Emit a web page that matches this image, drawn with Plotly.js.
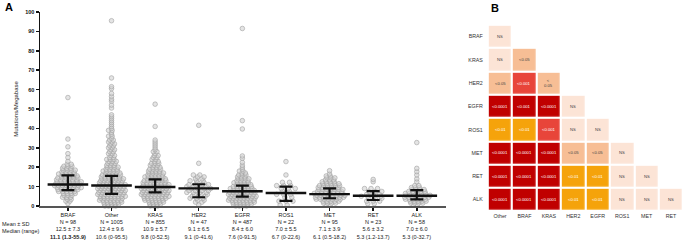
<!DOCTYPE html>
<html><head><meta charset="utf-8">
<script src="https://cdn.plot.ly/plotly-3.0.1.min.js"></script>
<style>html,body{margin:0;padding:0;background:#fff}#chart{width:685px;height:242px}</style>
</head><body><div id="chart"></div>
<script>
// ---------- Panel A data ----------
const cats = ['BRAF','Other','KRAS','HER2','EGFR','ROS1','MET','RET','ALK'];
const nCounts = [98,1005,855,47,487,22,95,23,58];
const meanSD = ['12.5 ± 7.3','12.4 ± 9.6','10.9 ± 5.7','9.1 ± 6.5','8.4 ± 6.0','7.0 ± 5.5','7.1 ± 3.9','5.6 ± 3.2','7.0 ± 6.0'];
const medianRange = ['11.1 (1.3-55.9)','10.6 (0-95.5)','9.8 (0-52.5)','9.1 (0-41.6)','7.6 (0-91.5)','6.7 (0-22.6)','6.1 (0.5-18.2)','5.3 (1.2-13.7)','5.3 (0-32.7)'];
const medians = [11.1,10.6,9.8,9.1,7.6,6.7,6.1,5.3,5.3];
const q1 = [8.2,6.2,7.0,4.5,4.8,2.6,4.0,3.1,3.4];
const q3 = [15.8,15.5,13.7,11.2,10.5,10.0,9.1,7.7,8.2];

// swarm rows: value levels and number of dots across at each level
const brafLevels = [1.3,2.5,3.5,4.5,5.5,6.5,7.5,8.5,9.5,10.5,11.5,12.5,13.5,14.5,15.5,16.5,17.5,18.5,19.5,20.5,21.5,23,25,27,30.5,34.5,55.9];
const brafCounts = [1,2,2,3,3,4,5,6,7,7,7,7,6,6,5,5,4,4,3,3,2,1,1,1,1,1,1];
const otherLevels = [0,1,2,3,4,5,6,7,8,9,10,11,12,13,14,15,16,17,18,19,20,21,22,23,24,25,26,27,28,29,30,31,32,33,34,35,36,37,38,39,40,41,42,43,44,45,46,47,50.5,52,54,55,56.5,58,60.5,61.5,66,95.5];
const otherCounts = [4,5,6,7,7,8,8,8,8,8,8,8,7,7,7,6,6,5,5,4,4,3,3,3,3,2,2,2,2,2,2,2,2,2,2,1,2,1,1,2,1,1,1,1,1,1,1,1,1,1,1,1,1,1,1,1,1,1];
const krasLevels = [0,1,2,3,4,5,6,7,8,9,10,11,12,13,14,15,16,17,18,19,20,21,22,23,24,25,26,27,28,29,30,31,32,33,34,41,52.5];
const krasCounts = [3,4,5,6,7,8,8,8,8,8,8,8,7,7,6,6,5,5,4,4,3,3,3,2,2,2,2,1,2,1,1,1,1,1,1,1,1];
const her2Levels = [0.5,2,3,4,5,6,7,8,9,10,11,12,13,14,15,16,22,41.6];
const her2Counts = [1,2,2,3,3,3,4,4,4,4,4,2,3,2,2,2,1,1];
const egfrLevels = [0,1,2,3,4,5,6,7,8,9,10,11,12,13,14,15,16,17,18,19,20,21,22.5,24.6,25.8,39.7,44,91.5];
const egfrCounts = [4,6,7,8,8,8,8,8,7,7,6,5,5,4,4,3,3,2,2,1,1,1,1,1,1,1,1,1];
const ros1Levels = [0.5,2.5,4.5,6,7.5,9,10.5,12.2,16,22.9];
const ros1Counts = [2,3,2,3,2,3,3,2,1,1];
const metLevels = [0.5,1.5,2.5,3.5,4.5,5.5,6.5,7.5,8.5,9.5,10.5,11.5,12.5,13.5,14.5,15.5,16.5,18.2];
const metCounts = [2,4,5,7,8,8,8,7,7,6,6,5,4,3,3,2,1,1];
const retLevels = [1.2,2.5,4,5,6,7.5,9,12.5,13.7];
const retCounts = [2,3,3,4,3,3,3,1,1];
const alkLevels = [0.5,1.5,2.5,3.5,4.5,5.5,6.5,7.5,8.5,9.5,10.5,12.5,14,16,17.7,19.4,32.7];
const alkCounts = [2,4,5,6,7,7,6,5,4,3,2,1,1,1,1,1,1];

// ---------- Panel B data ----------
const hmCols = ['Other','BRAF','KRAS','HER2','EGFR','ROS1','MET','RET'];
const hmRows = ['BRAF','KRAS','HER2','EGFR','ROS1','MET','RET','ALK'];
// significance level: 0 NS, 1 <0.05, 2 <0.01, 3 <0.001, 4 <0.0001
const hmLevels = [
  [0],
  [0,1],
  [1,3,1],
  [4,4,4,0],
  [2,2,3,0,0],
  [4,4,4,1,1,0],
  [4,4,4,2,2,0,0],
  [4,4,4,2,2,0,0,0]
];
const hmLabels = [
  ['NS'],
  ['NS','<0.05'],
  ['<0.05','<0.001','<<br>0.05'],
  ['<0.0001','<0.001','<0.0001','NS'],
  ['<0.01','<0.01','<0.001','NS','NS'],
  ['<0.0001','<0.0001','<0.0001','<0.05','<0.05','NS'],
  ['<0.0001','<0.0001','<0.0001','<0.01','<0.01','NS','NS'],
  ['<0.0001','<0.0001','<0.0001','<0.01','<0.01','NS','NS','NS']
];

// ---------- build ----------
const FONT = 'Arial, "Liberation Sans", sans-serif';
const W = 685, H = 242;
const xDom = [40/W, 446/W], xRange = [-0.64, 8.67];
const pxPerUnit = (xDom[1]-xDom[0])*W/(xRange[1]-xRange[0]);
const swarmSets = [[brafLevels,brafCounts],[otherLevels,otherCounts],[krasLevels,krasCounts],[her2Levels,her2Counts],
  [egfrLevels,egfrCounts],[ros1Levels,ros1Counts],[metLevels,metCounts],[retLevels,retCounts],[alkLevels,alkCounts]];
const spacingPx = [4,3.6,3.6,6.5,3.6,7,4,6.5,4];
const dx = [], dy = [];
swarmSets.forEach(([lv,ct],i)=>{
  const d = spacingPx[i]/pxPerUnit;
  lv.forEach((v,j)=>{
    const c = ct[j];
    const shift = c>1 ? ((j%3)-1)*d*0.33 : 0;
    for(let k=0;k<c;k++){ dx.push(i + (k-(c-1)/2)*d + shift); dy.push(v); }
  });
});

const tickText = cats.map((c,i)=>c+'<br>N = '+nCounts[i]+'<br>'+meanSD[i]+'<br>'+(i===0?'<b>'+medianRange[i]+'</b>':medianRange[i]));

const traces = [
  {type:'scatter', mode:'markers', x:dx, y:dy, cliponaxis:false, hoverinfo:'skip',
   marker:{size:4.6, color:'rgba(210,210,210,0.6)', line:{color:'#a0a0a0', width:0.6}}},
  {type:'scatter', mode:'markers', x:cats.map((c,i)=>i), y:medians, cliponaxis:false,
   marker:{symbol:'line-ew', size:29, line:{color:'#111', width:2.4}},
   error_y:{type:'data', symmetric:false, array:q3.map((v,i)=>v-medians[i]), arrayminus:medians.map((v,i)=>v-q1[i]),
            color:'#111', thickness:2.2, width:6.5}},
];

const colorsLv = ['#FCE4D6','#F7BE95','#F5A30B','#E8453A','#C00000'];
const cs = [];
colorsLv.forEach((c,i)=>{ cs.push([i/5,c]); cs.push([(i+1)/5,c]); });
const zFull = hmRows.map((r,i)=>hmCols.map((c,j)=> j<hmLevels[i].length ? hmLevels[i][j] : null));
traces.push({type:'heatmap', x:hmCols, y:hmRows, z:zFull, xaxis:'x2', yaxis:'y2', zmin:-0.5, zmax:4.5,
  colorscale:cs, showscale:false, xgap:2.2, ygap:2.2, hoverinfo:'skip'});

const annotations = [];
hmRows.forEach((r,i)=>hmLabels[i].forEach((t,j)=>{
  annotations.push({xref:'x2', yref:'y2', x:hmCols[j], y:r, text:t, showarrow:false,
    font:{family:FONT, size:4.2, color: hmLevels[i][j]<=1 ? '#444' : '#fff'}});
}));
annotations.push({xref:'paper', yref:'paper', x:3/W, y:1-7/H, xanchor:'left', yanchor:'middle', text:'<b>A</b>', showarrow:false, font:{family:FONT, size:11, color:'#000'}});
annotations.push({xref:'paper', yref:'paper', x:489/W, y:1-8/H, xanchor:'left', yanchor:'middle', text:'<b>B</b>', showarrow:false, font:{family:FONT, size:11, color:'#000'}});
annotations.push({xref:'paper', yref:'paper', x:0, y:1-224/H, xanchor:'left', yanchor:'middle', text:'Mean ± SD', showarrow:false, font:{family:FONT, size:5.5, color:'#222'}});
annotations.push({xref:'paper', yref:'paper', x:0, y:1-231/H, xanchor:'left', yanchor:'middle', text:'Median (range)', showarrow:false, font:{family:FONT, size:5.5, color:'#222'}});

const layout = {
  width:W, height:H, margin:{l:0,r:0,t:0,b:0}, paper_bgcolor:'#fff', plot_bgcolor:'rgba(0,0,0,0)',
  showlegend:false, font:{family:FONT, color:'#222'},
  xaxis:{domain:xDom, range:xRange, tickmode:'array', tickvals:cats.map((c,i)=>i), ticktext:tickText,
    showgrid:false, zeroline:false, showline:true, linecolor:'#555', linewidth:1.5,
    ticks:'outside', ticklen:3, tickwidth:1.5, tickcolor:'#111', tickfont:{family:FONT, size:5.5, color:'#222'}, anchor:'y'},
  yaxis:{domain:[36/H, 230/H], range:[0,100], dtick:10, showgrid:false, zeroline:false, showline:true, linecolor:'#111', linewidth:1.5,
    ticks:'outside', ticklen:3, tickwidth:1.5, tickcolor:'#111', tickfont:{family:FONT, size:5.5, color:'#111', weight:'bold'},
    title:{text:'Mutations/Megabase', font:{family:FONT, size:6, color:'#222'}, standoff:6}, anchor:'x'},
  xaxis2:{domain:[487.8/W, 683.2/W], anchor:'y2', showgrid:false, zeroline:false, showline:false, ticks:'',
    tickfont:{family:FONT, size:5.3, color:'#333'}, type:'category'},
  yaxis2:{domain:[(H-211.2)/H, (H-24.8)/H], anchor:'x2', autorange:'reversed', showgrid:false, zeroline:false, showline:false, ticks:'',
    tickfont:{family:FONT, size:5.3, color:'#333'}, type:'category', ticklabelstandoff:4},
  annotations:annotations
};
Plotly.newPlot('chart', traces, layout, {staticPlot:true, displayModeBar:false});
</script></body></html>
